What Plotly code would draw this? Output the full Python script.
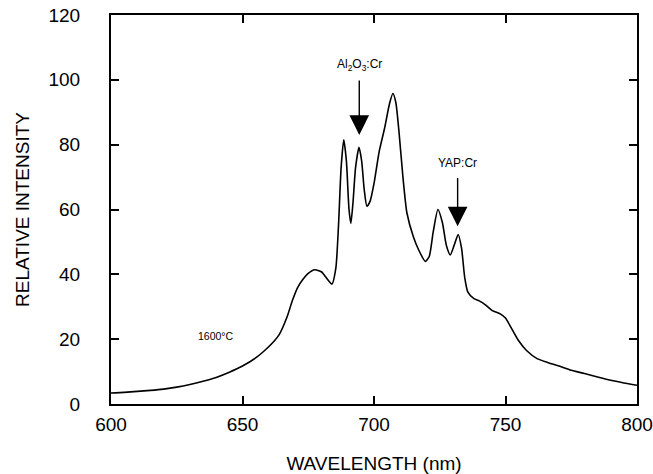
import plotly.graph_objects as go

wavelength = [600, 605, 610, 615, 620, 625, 630, 635, 640, 645, 650, 655, 658, 661, 664, 667,
              669, 671, 673, 675, 677.5, 680, 682, 684, 685.5, 686.5, 687.5, 688.5, 689.5, 690.5,
              691.2, 692, 693, 694.3, 695.3, 696.3, 697.3, 698.5, 700, 702, 704, 706, 707.2,
              708.3, 709.5, 711, 712.5, 715, 717, 719.5, 721, 722.5, 724.3, 726, 727.5, 729,
              730.5, 732, 733.3, 734.5, 735.7, 738, 740, 742.5, 745, 748, 750, 752.5, 755, 758,
              762, 766, 770, 775, 780, 785, 790, 795, 800]
intensity = [3.4, 3.6, 3.9, 4.2, 4.6, 5.2, 6.0, 7.0, 8.2, 9.8, 11.7, 14.2, 16.2, 18.5, 21.5, 27,
             32, 36, 38.5, 40.3, 41.4, 40.8, 38.8, 37, 42, 55, 73, 81.5, 75, 60,
             55.7, 62, 73, 79.2, 75, 66, 61, 62.5, 68, 78, 85, 93, 95.8,
             93, 84, 70, 59, 51.5, 47.5, 44, 45.5, 53, 60, 56, 49, 46,
             49, 52.3, 48, 39, 34.5, 32.5, 31.8, 30.5, 28.8, 27.8, 26.5, 23, 19.5, 16.5,
             14, 12.8, 11.8, 10.4, 9.4, 8.3, 7.3, 6.5, 5.8]

x_ticks = [600, 650, 700, 750, 800]
y_ticks = [0, 20, 40, 60, 80, 100, 120]

FONT = "Liberation Sans, Arial, sans-serif"

fig = go.Figure()
fig.add_trace(go.Scatter(x=wavelength, y=intensity, mode="lines",
                         line=dict(color="black", width=1.6, shape="spline", smoothing=0.6),
                         showlegend=False, hoverinfo="skip"))

axis_common = dict(showline=True, linecolor="black", linewidth=2, mirror="ticks",
                   ticks="inside", ticklen=8, tickwidth=1.5, tickcolor="black",
                   showgrid=False, zeroline=False,
                   tickfont=dict(family=FONT, size=19, color="black"))

fig.update_xaxes(range=[600, 800], tickvals=x_ticks, ticktext=[str(v) for v in x_ticks],
                 ticklabelstandoff=2,
                 title=dict(text="WAVELENGTH (nm)", font=dict(family=FONT, size=19, color="black"),
                            standoff=27),
                 **axis_common)
fig.update_yaxes(range=[0, 120], tickvals=y_ticks, ticktext=[str(v) for v in y_ticks],
                 ticklabelstandoff=25,
                 title=dict(text="RELATIVE INTENSITY", font=dict(family=FONT, size=19, color="black"),
                            standoff=14),
                 **axis_common)

# Annotations: label text with arrow pointing down to the peak
fig.add_annotation(x=694.4, y=83, ax=694.4, ay=104.6, xref="x", yref="y", axref="x", ayref="y",
                   text="Al<sub>2</sub>O<sub>3</sub>:Cr", showarrow=True, arrowhead=2,
                   arrowsize=2.8, arrowwidth=1.4, arrowcolor="black", startstandoff=6,
                   font=dict(family=FONT, size=12, color="black"))
fig.add_annotation(x=731.8, y=54.8, ax=731.8, ay=74.5, xref="x", yref="y", axref="x", ayref="y",
                   text="YAP:Cr", showarrow=True, arrowhead=2,
                   arrowsize=2.8, arrowwidth=1.4, arrowcolor="black", startstandoff=7,
                   font=dict(family=FONT, size=12, color="black"))
fig.add_annotation(x=640, y=21, xref="x", yref="y", text="1600°C",
                   showarrow=False, font=dict(family=FONT, size=10.5, color="black"))

fig.update_layout(width=653, height=474, margin=dict(l=111, r=16, t=15, b=70, autoexpand=False),
                  plot_bgcolor="white", paper_bgcolor="white")

fig.write_html("out.html")
